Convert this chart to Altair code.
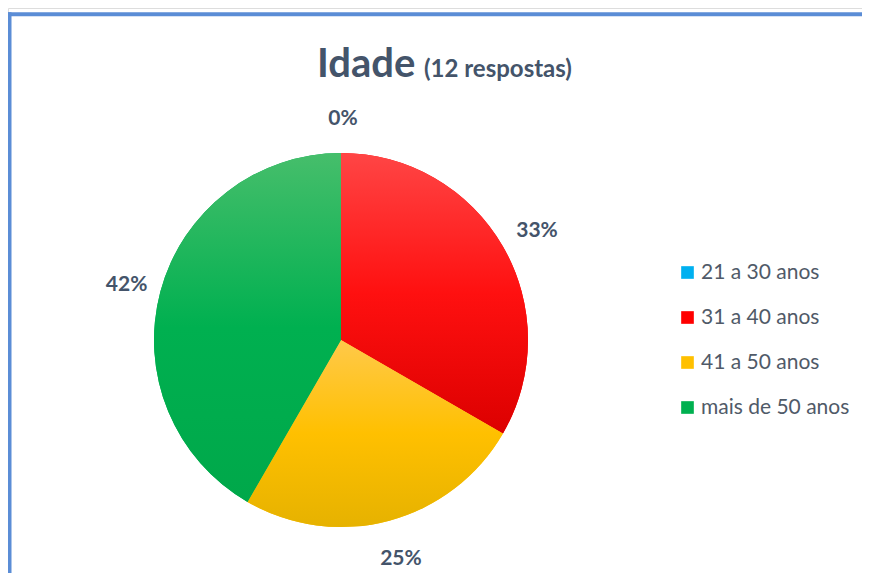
import altair as alt
import pandas as pd

categories = ["21 a 30 anos", "31 a 40 anos", "41 a 50 anos", "mais de 50 anos"]
counts = [0, 4, 3, 5]
pct_labels = ["0%", "33%", "25%", "42%"]
colors = ["#00B0F0", "#FF0000", "#FFC000", "#00B050"]
grad_top = ["#4CC8F4", "#FF4545", "#FFC94A", "#46BE6B"]
grad_mid = ["#00B0F0", "#FF1010", "#FFC000", "#00B050"]
grad_bot = ["#009ED8", "#DC0000", "#E6B200", "#00A84A"]

total = sum(counts)
df = pd.DataFrame({"cat": categories, "n": counts, "lab": pct_labels, "idx": range(len(categories))})

W, H = 854, 565
CX, CY = 333, 332
R = 187
TXT = "#44546A"
FONT = "Lato"

base = alt.Chart(df).transform_window(
    cum="sum(n)", sort=[alt.SortField("idx")], frame=[None, 0]
).transform_calculate(
    start="datum.cum - datum.n", end="datum.cum", mid="datum.cum - datum.n/2"
)

theta_scale = alt.Scale(domain=[0, total], range=[0, 6.283185307179586])

pie_base = base.mark_arc(radius=R).encode(
    theta=alt.Theta("start:Q", scale=theta_scale),
    theta2="end:Q",
    x=alt.value(CX),
    y=alt.value(CY),
    color=alt.Color(
        "cat:N",
        scale=alt.Scale(domain=categories, range=colors),
        sort=categories,
        legend=alt.Legend(
            title=None,
            orient="none",
            legendX=669,
            legendY=254,
            symbolType="square",
            symbolSize=160,
            symbolStrokeWidth=0,
            labelFont=FONT,
            labelFontSize=21,
            labelColor="#505A68",
            labelOffset=3,
            rowPadding=23,
            padding=0,
        ),
    ),
)

layers = [pie_base]
for i, c in enumerate(categories):
    if counts[i] == 0:
        continue
    grad = alt.LinearGradient(
        gradient="linear",
        x1=0, x2=0, y1=0, y2=1,
        stops=[
            alt.GradientStop(color=grad_top[i], offset=0),
            alt.GradientStop(color=grad_mid[i], offset=0.5),
            alt.GradientStop(color=grad_bot[i], offset=1),
        ],
    )
    layers.append(
        base.transform_filter(alt.datum.cat == c).mark_arc(radius=R, fill=grad).encode(
            theta=alt.Theta("start:Q", scale=theta_scale),
            theta2="end:Q",
            x=alt.value(CX),
            y=alt.value(CY),
        )
    )

labels = base.mark_text(
    font=FONT, fontSize=21, fontWeight="bold", color=TXT, align="center", baseline="middle"
).encode(
    theta=alt.Theta("mid:Q", scale=theta_scale),
    radius=alt.value(224),
    x=alt.value(CX + 2),
    y=alt.value(CY + 3),
    text="lab:N",
)
layers.append(labels)

title_main = alt.Chart(pd.DataFrame({"t": ["Idade"]})).mark_text(
    font=FONT, fontSize=40, fontWeight="bold", color=TXT, align="left", baseline="alphabetic"
).encode(x=alt.value(309), y=alt.value(69), text="t:N")
title_sub = alt.Chart(pd.DataFrame({"t": ["(12 respostas)"]})).mark_text(
    font=FONT, fontSize=24, fontWeight="bold", color=TXT, align="left", baseline="alphabetic"
).encode(x=alt.value(416), y=alt.value(69), text="t:N")

border_top = alt.Chart(pd.DataFrame({"a": [0]})).mark_rule(color="#5B8DD6", strokeWidth=4).encode(
    x=alt.value(0), x2=alt.value(W), y=alt.value(6.3)
)
border_left = alt.Chart(pd.DataFrame({"a": [0]})).mark_rule(color="#5B8DD6", strokeWidth=4).encode(
    x=alt.value(1.5), y=alt.value(4.3), y2=alt.value(H)
)

chart = alt.layer(*layers, title_main, title_sub, border_top, border_left).properties(
    width=W, height=H, autosize=alt.AutoSizeParams(type="none"), padding=0
).configure_view(strokeWidth=0, stroke="transparent").configure(background="transparent")

chart.save("out.html", embed_options={"renderer": "svg", "actions": False})
